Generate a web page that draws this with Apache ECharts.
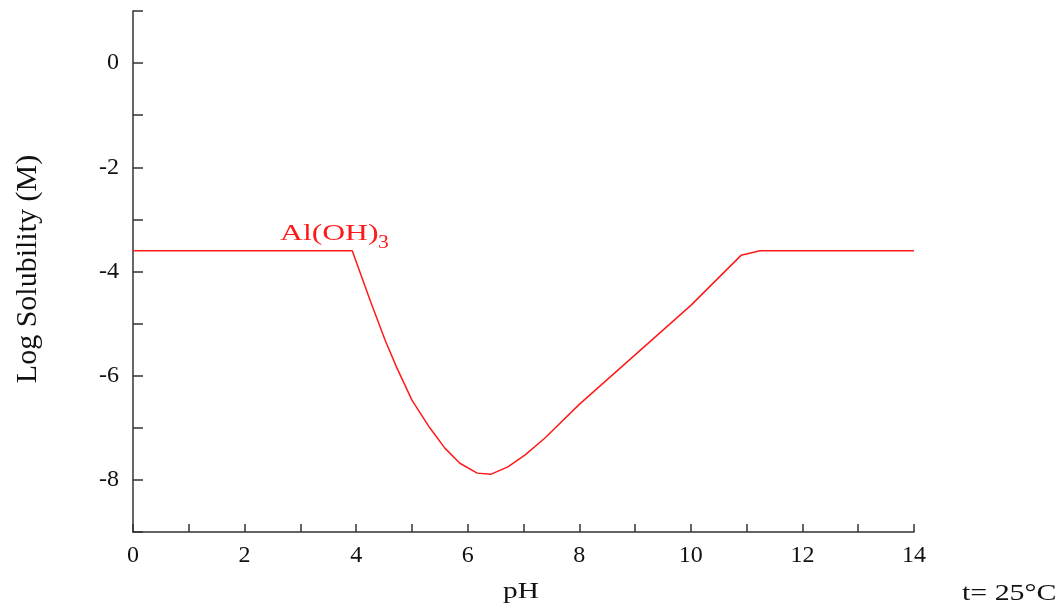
<!DOCTYPE html>
<html>
<head>
<meta charset="utf-8">
<script src="https://cdn.jsdelivr.net/npm/echarts@6/dist/echarts.min.js"></script>
<style>html,body{margin:0;padding:0;background:#fff}#c{width:1062px;height:606px}</style>
</head>
<body>
<div id="c"></div>
<script>
const pH = [0, 3.93, 4.25, 4.52, 4.73, 5.0, 5.32, 5.59, 5.86, 6.17, 6.42, 6.72, 7.03, 7.38, 8.0, 9.0, 10.0, 10.9, 11.24, 14];
const logS = [-3.6, -3.6, -4.55, -5.32, -5.85, -6.47, -7.0, -7.39, -7.68, -7.87, -7.89, -7.75, -7.52, -7.2, -6.55, -5.6, -4.65, -3.69, -3.6, -3.6];
const seriesLabel = 'Al(OH)';
const seriesSub = '3';
const xTitle = 'pH';
const yTitle = 'Log Solubility (M)';
const note = 't= 25°C';

const font = '"Liberation Serif", "DejaVu Serif", serif';
const red = '#ff1a1a';
const chart = echarts.init(document.getElementById('c'), null, {renderer: 'canvas'});
chart.setOption({
  animation: false,
  backgroundColor: '#fff',
  grid: {left: 133, right: 148, top: 11, bottom: 74},
  xAxis: {
    type: 'value', min: 0, max: 14, interval: 1,
    axisLine: {show: true, onZero: false, lineStyle: {color: '#333', width: 1.5}},
    axisTick: {show: true, inside: true, length: 8, lineStyle: {color: '#333', width: 1.5}},
    splitLine: {show: false},
    axisLabel: {margin: 12, color: '#111', fontFamily: font, fontSize: 24,
      formatter: v => (v % 2 === 0 ? String(v) : '')}
  },
  yAxis: {
    type: 'value', min: -9, max: 1, interval: 1,
    axisLine: {show: true, onZero: false, lineStyle: {color: '#333', width: 1.5}},
    axisTick: {show: true, inside: true, length: 10, lineStyle: {color: '#333', width: 1.5}},
    splitLine: {show: false},
    axisLabel: {margin: 14, color: '#111', fontFamily: font, fontSize: 24,
      formatter: v => (Math.abs(v) % 2 === 0 ? String(v) : '')}
  },
  series: [{
    type: 'line',
    data: pH.map((x, i) => [x, logS[i]]),
    showSymbol: false,
    lineStyle: {color: red, width: 1.5},
    z: 3
  }],
  graphic: [
    {type: 'text', x: 280, y: 234, scaleX: 1.32, style: {
      text: seriesLabel, fontFamily: font, fontSize: 24, fill: red, align: 'left', verticalAlign: 'middle'}},
    {type: 'text', x: 378, y: 243, scaleX: 1.2, style: {
      text: seriesSub, fontFamily: font, fontSize: 18, fill: red, align: 'left', verticalAlign: 'middle'}},
    {type: 'text', x: 503, y: 592, scaleX: 1.22, style: {
      text: xTitle, fontFamily: font, fontSize: 24, fill: '#111', align: 'left', verticalAlign: 'middle'}},
    {type: 'text', x: 962, y: 594, scaleX: 1.3, style: {
      text: note, fontFamily: font, fontSize: 23, fill: '#111', align: 'left', verticalAlign: 'middle'}},
    {type: 'text', x: 28, y: 269, rotation: Math.PI / 2, style: {
      text: yTitle, fontFamily: font, fontSize: 30, fill: '#111', align: 'center', verticalAlign: 'middle'}}
  ]
});
</script>
</body>
</html>
